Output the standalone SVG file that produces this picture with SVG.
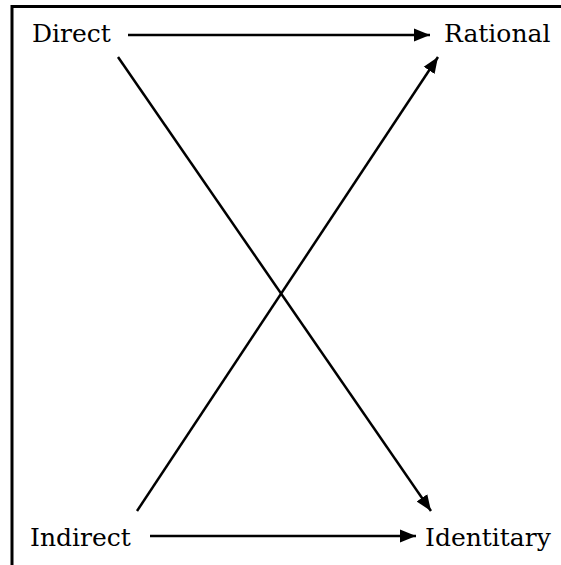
<svg xmlns="http://www.w3.org/2000/svg" width="561" height="565" viewBox="0 0 561 565">
<style>
text{font-family:"DejaVu Serif","Liberation Serif",serif;font-size:25px;fill:#000}
.c{stroke:#000;stroke-width:2.5;fill:none;marker-end:url(#ah)}
</style>
<defs>
<marker id="ah" markerUnits="userSpaceOnUse" markerWidth="18" markerHeight="14" refX="16" refY="7" orient="auto">
<path d="M0,0.5 L16,7 L0,13.5 Z" fill="#000"/>
</marker>
</defs>
<rect width="561" height="565" fill="#fff"/>
<path d="M12,565 V6.5 H561" stroke="#000" stroke-width="3" fill="none"/>
<g id="direct"><text x="32" y="42">Direct</text></g>
<g id="rational"><text x="444" y="42">Rational</text></g>
<g id="indirect"><text x="30" y="546">Indirect</text></g>
<g id="identitary"><text x="425" y="546">Identitary</text></g>
<g id="connectors">
<line class="c" x1="128" y1="35" x2="430" y2="35"/>
<line class="c" x1="118" y1="57" x2="431" y2="511"/>
<line class="c" x1="137" y1="511" x2="438" y2="57"/>
<line class="c" x1="150" y1="536" x2="416" y2="536"/>
</g>
</svg>
